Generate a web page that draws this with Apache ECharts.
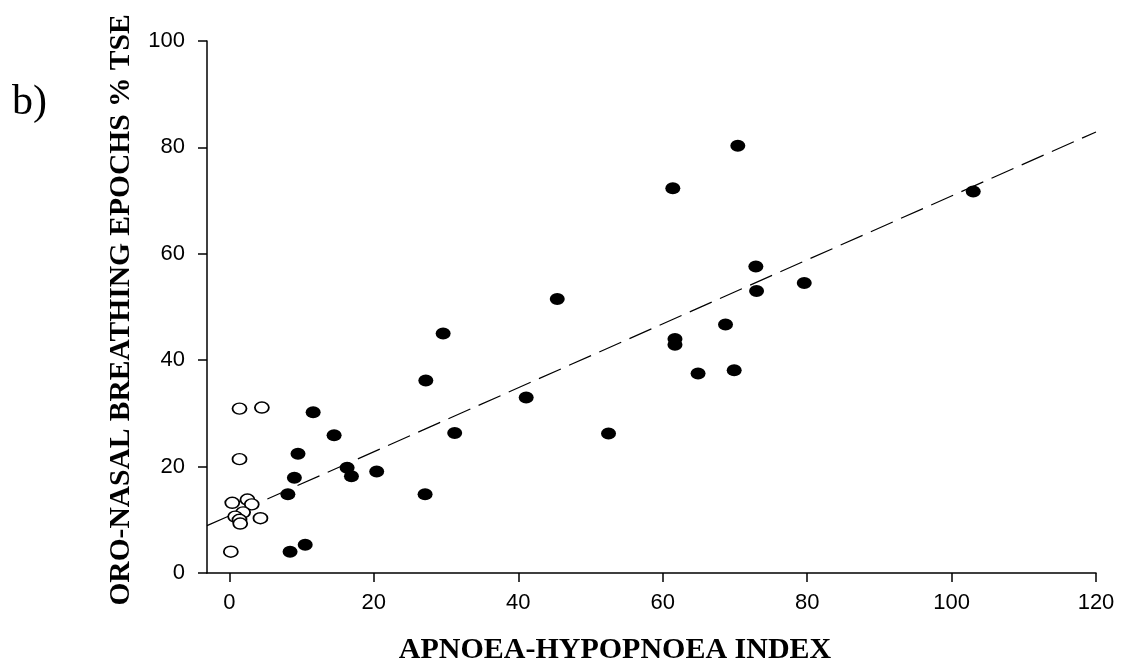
<!DOCTYPE html>
<html>
<head>
<meta charset="utf-8">
<script src="https://cdn.jsdelivr.net/npm/echarts@6/dist/echarts.min.js"></script>
<style>html,body{margin:0;padding:0;background:#fff;}#chart{width:1125px;height:665px;}</style>
</head>
<body>
<div id="chart"></div>
<script>
// Filled circles (AHI, oro-nasal breathing epochs % TSE)
const filledPoints = [
  [103.0,71.7],[70.4,80.3],[61.4,72.3],[72.9,57.6],[73.0,53.0],[79.6,54.5],
  [68.7,46.7],[61.7,44.0],[61.7,42.9],[64.9,37.5],[69.9,38.1],[52.5,26.2],
  [45.4,51.5],[29.6,45.0],[27.2,36.2],[41.1,33.0],[11.6,30.2],[14.5,25.9],
  [31.2,26.3],[9.5,22.4],[16.3,19.8],[16.9,18.2],[20.4,19.1],[9.0,17.9],
  [8.1,14.8],[27.1,14.8],[10.5,5.3],[8.4,4.0]
];
// Open circles
const openPoints = [
  [1.4,30.9],[4.5,31.1],[1.4,21.4],[0.4,13.2],[2.5,13.8],[3.1,12.9],
  [1.9,11.4],[0.8,10.6],[1.4,10.0],[1.5,9.3],[4.3,10.3],[0.2,4.0]
];
// Regression line endpoints
const fitLine = [[-3.1, 8.9],[120, 82.9]];
const xTicks = [0,20,40,60,80,100,120];
const yTicks = [0,20,40,60,80,100];
const xTitle = 'APNOEA-HYPOPNOEA INDEX';
const yTitle = 'ORO-NASAL BREATHING EPOCHS % TSE';
const panelLabel = 'b)';

const chart = echarts.init(document.getElementById('chart'), null, {renderer:'canvas'});
const lineSt = {color:'#000', width:1.5};
const labelSt = {color:'#000', fontFamily:'Liberation Sans', fontSize:22};
chart.setOption({
  animation:false,
  backgroundColor:'#fff',
  grid:{left:207, right:29, top:41, bottom:92, containLabel:false},
  xAxis:{
    type:'value', min:-3.1, max:120,
    axisLine:{show:true, onZero:false, lineStyle:lineSt},
    axisTick:{show:true, length:9, lineStyle:lineSt, customValues:xTicks},
    axisLabel:Object.assign({}, labelSt, {margin:19, customValues:xTicks}),
    splitLine:{show:false}
  },
  yAxis:{
    type:'value', min:0, max:100, interval:20,
    axisLine:{show:true, onZero:false, lineStyle:lineSt},
    axisTick:{show:true, length:9, lineStyle:lineSt},
    axisLabel:Object.assign({}, labelSt, {margin:22}),
    splitLine:{show:false}
  },
  graphic:[
    {type:'text', left:12, top:82, style:{text:panelLabel, font:'42px "Liberation Serif"', fill:'#000'}},
    {type:'text', x:615, y:650, style:{text:xTitle, font:'bold 30px "Liberation Serif"', fill:'#000', textAlign:'center', textVerticalAlign:'middle'}},
    {type:'text', x:121, y:310, rotation:Math.PI/2, style:{text:yTitle, font:'bold 29.5px "Liberation Serif"', fill:'#000', textAlign:'center', textVerticalAlign:'middle'}}
  ],
  series:[
    {type:'line', data:fitLine, symbol:'none', z:1,
     lineStyle:{color:'#000', width:1.2, type:[24,9]}},
    {type:'scatter', data:openPoints, symbol:'circle', symbolSize:[14,11], z:2,
     itemStyle:{color:'#fff', borderColor:'#000', borderWidth:1.6, opacity:1}},
    {type:'scatter', data:filledPoints, symbol:'circle', symbolSize:[15,12], z:3,
     itemStyle:{color:'#000', opacity:1}}
  ]
});
</script>
</body>
</html>
